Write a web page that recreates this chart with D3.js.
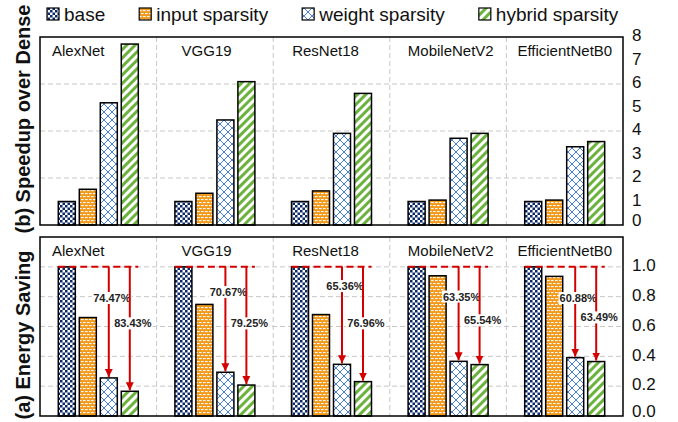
<!DOCTYPE html>
<html>
<head>
<meta charset="utf-8">
<script src="https://cdn.jsdelivr.net/npm/d3@7/dist/d3.min.js"></script>
<style>
  body { margin: 0; background: #fff; }
  text { font-family: "Liberation Sans", Arial, sans-serif; }
</style>
</head>
<body>
<div id="chart-area"></div>
<script>
// data
var groups = ["AlexNet", "VGG19", "ResNet18", "MobileNetV2", "EfficientNetB0"];
var seriesNames = ["base", "input sparsity", "weight sparsity", "hybrid sparsity"];

var speedBase   = [1, 1, 1, 1, 1];
var speedInput  = [1.52, 1.35, 1.45, 1.06, 1.06];
var speedWeight = [5.2, 4.47, 3.9, 3.69, 3.33];
var speedHybrid = [7.7, 6.1, 5.6, 3.9, 3.55];

var energyBase   = [1, 1, 1, 1, 1];
var energyInput  = [0.66, 0.748, 0.68, 0.94, 0.936];
var energyWeight = [0.2553, 0.2933, 0.3464, 0.3665, 0.3912];
var energyHybrid = [0.1657, 0.2075, 0.2304, 0.3446, 0.3651];

var weightSaving = ["74.47%", "70.67%", "65.36%", "63.35%", "60.88%"];
var hybridSaving = ["83.43%", "79.25%", "76.96%", "65.54%", "63.49%"];

var speedTicks  = [0, 1, 2, 3, 4, 5, 6, 7, 8];
var energyTicks = [0, 0.2, 0.4, 0.6, 0.8, 1.0];

// layout
var width = 678, height = 422;
var left = 40, right = 623;
var top1 = 37, bottom1 = 225;
var top2 = 237, bottom2 = 416;
var labelNudge = [12, 25, 19, 18, 11];
var weightLabelY = [0.79, 0.83, 0.87, 0.80, 0.79];
var hybridLabelY = [0.62, 0.62, 0.62, 0.64, 0.66];

var svg = d3.select("#chart-area").append("svg")
    .attr("width", width)
    .attr("height", height);

var defs = svg.append("defs");

// patterns
var pBase = defs.append("pattern").attr("id", "pBase")
    .attr("patternUnits", "userSpaceOnUse").attr("width", 5).attr("height", 5);
pBase.append("rect").attr("width", 5).attr("height", 5).attr("fill", "#fff");
pBase.append("rect").attr("width", 2.5).attr("height", 2.5).attr("fill", "#0c2868");
pBase.append("rect").attr("x", 2.5).attr("y", 2.5).attr("width", 2.5).attr("height", 2.5).attr("fill", "#0c2868");

var pInput = defs.append("pattern").attr("id", "pInput")
    .attr("patternUnits", "userSpaceOnUse").attr("width", 8).attr("height", 6);
pInput.append("rect").attr("width", 8).attr("height", 6).attr("fill", "#f39a1c");
[[1, 1], [5, 1], [3, 4], [7, 4], [-1, 4]].forEach(function(p) {
    pInput.append("rect").attr("x", p[0]).attr("y", p[1])
        .attr("width", 2.6).attr("height", 1.1).attr("fill", "#fff");
});

var pWeight = defs.append("pattern").attr("id", "pWeight")
    .attr("patternUnits", "userSpaceOnUse").attr("width", 8).attr("height", 8);
pWeight.append("rect").attr("width", 8).attr("height", 8).attr("fill", "#fff");
pWeight.append("path").attr("d", "M0,0 L8,8 M8,0 L0,8")
    .attr("stroke", "#4a7fd8").attr("stroke-width", 1).attr("fill", "none");

var pHybrid = defs.append("pattern").attr("id", "pHybrid")
    .attr("patternUnits", "userSpaceOnUse").attr("width", 6).attr("height", 6)
    .attr("patternTransform", "rotate(45)");
pHybrid.append("rect").attr("width", 6).attr("height", 6).attr("fill", "#fff");
pHybrid.append("rect").attr("width", 3).attr("height", 6).attr("fill", "#6cb33e");

var fills = ["url(#pBase)", "url(#pInput)", "url(#pWeight)", "url(#pHybrid)"];

defs.append("marker").attr("id", "arrow")
    .attr("viewBox", "0 0 10 10").attr("refX", 10).attr("refY", 5)
    .attr("markerUnits", "userSpaceOnUse")
    .attr("markerWidth", 8).attr("markerHeight", 8)
    .attr("orient", "auto")
    .append("path").attr("d", "M0,0 L10,5 L0,10 Z").attr("fill", "#d40000");

// scales
var x0 = d3.scaleBand().domain(groups).range([left, right]);
var x1 = d3.scaleBand().domain(seriesNames)
    .range([18.3, x0.bandwidth() - 18.3]).paddingInner(0.19);

var ySpeed = d3.scaleLinear().domain([0, 8]).range([bottom1, top1]);
var yEnergy = d3.scaleLinear().domain([0, 1.2]).range([bottom2, top2]);

function drawPanel(y, yTop, yBottom, gridVals, ticks, tickFmt, values) {
    var g = svg.append("g");

    // horizontal grid
    g.selectAll(".hgrid").data(gridVals).enter().append("line")
        .attr("x1", left).attr("x2", right)
        .attr("y1", function(d) { return y(d); })
        .attr("y2", function(d) { return y(d); })
        .attr("stroke", "#c8c8c8").attr("stroke-dasharray", "5,3");

    // vertical group dividers
    g.selectAll(".vgrid").data(groups.slice(1)).enter().append("line")
        .attr("x1", function(d) { return x0(d); })
        .attr("x2", function(d) { return x0(d); })
        .attr("y1", yTop).attr("y2", yBottom)
        .attr("stroke", "#c8c8c8").attr("stroke-dasharray", "5,3");

    // bars
    var rows = [];
    groups.forEach(function(grp, i) {
        seriesNames.forEach(function(s, j) {
            rows.push({ g: grp, s: s, j: j, v: values[j][i] });
        });
    });
    g.selectAll(".bar").data(rows).enter().append("rect")
        .attr("x", function(d) { return x0(d.g) + x1(d.s); })
        .attr("y", function(d) { return y(d.v); })
        .attr("width", x1.bandwidth())
        .attr("height", function(d) { return y(0) - y(d.v); })
        .attr("fill", function(d) { return fills[d.j]; })
        .attr("stroke", "#000").attr("stroke-width", 1.5);

    // group names
    g.selectAll(".gname").data(groups).enter().append("text")
        .attr("x", function(d, i) { return x0(d) + labelNudge[i]; })
        .attr("y", yTop + 19)
        .attr("font-size", "15px")
        .attr("fill", "#111")
        .text(function(d) { return d; });

    // frame
    g.append("rect")
        .attr("x", left).attr("y", yTop)
        .attr("width", right - left).attr("height", yBottom - yTop)
        .attr("fill", "none").attr("stroke", "#000").attr("stroke-width", 1.5);

    // right axis
    var axis = d3.axisRight(y).tickValues(ticks).tickSize(0).tickPadding(9)
        .tickFormat(tickFmt);
    var ax = g.append("g")
        .attr("transform", "translate(" + right + ",0)")
        .call(axis);
    ax.select(".domain").remove();
    ax.selectAll("text")
        .attr("dy", function(d) { return d === 0 ? "0.05em" : "0.22em"; })
        .attr("font-family", "Liberation Sans, Arial, sans-serif")
        .attr("font-size", "17px")
        .attr("fill", "#111");
    return g;
}

drawPanel(ySpeed, top1, bottom1, [2, 4, 6], speedTicks, d3.format("d"),
    [speedBase, speedInput, speedWeight, speedHybrid]);

var g2 = drawPanel(yEnergy, top2, bottom2, [0.2, 0.4, 0.6, 0.8, 1.0], energyTicks, d3.format(".1f"),
    [energyBase, energyInput, energyWeight, energyHybrid]);

// saving annotations
groups.forEach(function(grp, i) {
    var a = g2.append("g");
    var xs = x0(grp) + x1("base");
    var xe = x0(grp) + x1("hybrid sparsity") + x1.bandwidth();
    a.append("line")
        .attr("x1", xs).attr("x2", xe)
        .attr("y1", yEnergy(1)).attr("y2", yEnergy(1))
        .attr("stroke", "#d40000").attr("stroke-width", 2)
        .attr("stroke-dasharray", "7,4");

    [["weight sparsity", energyWeight[i], weightSaving[i], weightLabelY[i]],
     ["hybrid sparsity", energyHybrid[i], hybridSaving[i], hybridLabelY[i]]].forEach(function(s) {
        var cx = x0(grp) + x1(s[0]) + x1.bandwidth() / 2;
        a.append("line")
            .attr("x1", cx).attr("x2", cx)
            .attr("y1", yEnergy(1)).attr("y2", yEnergy(s[1]) - 1)
            .attr("stroke", "#d40000").attr("stroke-width", 2)
            .attr("marker-end", "url(#arrow)");
        var bg = a.append("rect").attr("fill", "#fff");
        var t = a.append("text")
            .attr("x", cx + 3).attr("y", yEnergy(s[3]))
            .attr("dy", "0.35em")
            .attr("text-anchor", "middle")
            .attr("font-size", "11px")
            .attr("font-weight", "bold")
            .attr("fill", "#222")
            .text(s[2]);
        var b = t.node().getBBox();
        bg.attr("x", b.x - 1).attr("y", b.y).attr("width", b.width + 2).attr("height", b.height);
    });
});

// axis titles
svg.append("text")
    .attr("transform", "translate(30,119) rotate(-90)")
    .attr("text-anchor", "middle")
    .attr("font-size", "20px")
    .attr("font-weight", "bold")
    .attr("fill", "#111")
    .text("(b) Speedup over Dense");

svg.append("text")
    .attr("transform", "translate(30,335) rotate(-90)")
    .attr("text-anchor", "middle")
    .attr("font-size", "20px")
    .attr("font-weight", "bold")
    .attr("fill", "#111")
    .text("(a) Energy Saving");

// legend
var legend = svg.append("g");
var lx = 47;
seriesNames.forEach(function(s, j) {
    legend.append("rect")
        .attr("x", lx).attr("y", 8)
        .attr("width", 12).attr("height", 12)
        .attr("fill", fills[j]).attr("stroke", "#000").attr("stroke-width", 1.2);
    var t = legend.append("text")
        .attr("x", lx + 17).attr("y", 21)
        .attr("font-size", "19px")
        .attr("fill", "#111")
        .text(s);
    lx += 17 + t.node().getComputedTextLength() + 34;
});
</script>
</body>
</html>
